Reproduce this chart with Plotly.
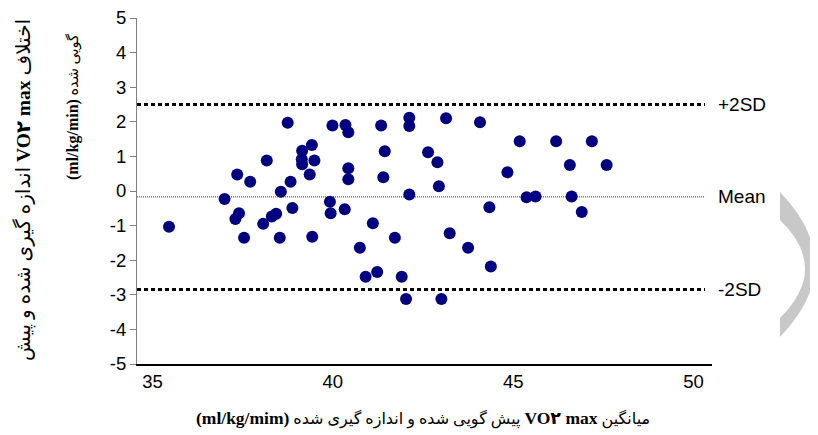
import plotly.graph_objects as go

# Bland-Altman data
mean_vals = [38.75, 39.99, 40.35, 40.43, 41.34, 42.12, 42.12, 39.42, 39.15, 41.44,
             38.17, 39.14, 39.49, 39.15, 37.35, 37.71, 38.83, 39.36, 40.43, 40.43,
             41.40, 38.56, 37.00, 42.12, 39.92, 38.88, 39.94, 40.33, 37.40, 37.30,
             38.43, 38.31, 35.46, 38.07, 41.11, 37.54, 38.53, 39.43, 41.72, 40.75,
             40.91, 41.23, 41.91, 42.03, 43.14, 44.08, 45.18, 46.19, 47.18, 42.64,
             42.90, 46.57, 47.59, 44.84, 42.94, 45.37, 45.62, 46.62, 44.34, 46.90,
             43.24, 43.75, 44.38, 43.01]
diff_vals = [1.97, 1.89, 1.91, 1.70, 1.89, 2.12, 1.88, 1.33, 1.16, 1.15,
             0.88, 0.92, 0.88, 0.77, 0.48, 0.27, 0.27, 0.48, 0.66, 0.34,
             0.40, -0.02, -0.23, -0.10, -0.31, -0.49, -0.64, -0.53, -0.64, -0.81,
             -0.66, -0.74, -1.03, -0.95, -0.93, -1.35, -1.35, -1.32, -1.35, -1.64,
             -2.48, -2.34, -2.48, -3.12, 2.10, 1.99, 1.44, 1.44, 1.44, 1.12,
             0.83, 0.75, 0.75, 0.54, 0.14, -0.18, -0.16, -0.16, -0.47, -0.61,
             -1.22, -1.64, -2.18, -3.12]

limit_names = ["+2SD", "Mean", "-2SD"]
limit_vals = [2.50, -0.17, -2.85]

x_ticks = [35, 40, 45, 50]
y_ticks = [5, 4, 3, 2, 1, 0, -1, -2, -3, -4, -5]

# page body has an 8px margin: figure is drawn from (8, 8) of the window
OFF = 8
W, H = 818 - OFF, 435 - OFF
ML, MT = 137 - OFF, 18 - OFF
MR = W - (712 - OFF)
MB = H - (364 - OFF)
PW, PH = W - ML - MR, H - MT - MB


def px(xw):
    """window pixel x -> paper"""
    return (xw - OFF - ML) / PW


def py(yw):
    """window pixel y -> paper"""
    return (H - MB - (yw - OFF)) / PH


fig = go.Figure()
fig.add_trace(go.Scatter(
    x=mean_vals, y=diff_vals, mode="markers",
    marker=dict(color="#000080", size=12, line=dict(width=0)),
    showlegend=False, cliponaxis=False,
))

line_styles = {
    "+2SD": dict(color="black", width=3, dash="4px,3px"),
    "Mean": dict(color="#333333", width=1, dash="1px,1px"),
    "-2SD": dict(color="black", width=3, dash="4px,3px"),
}
for name, v in zip(limit_names, limit_vals):
    fig.add_shape(type="line", xref="paper", yref="y", x0=0, x1=px(705), y0=v, y1=v,
                  line=line_styles[name], layer="below")
    fig.add_annotation(xref="paper", yref="y", x=px(716), y=v, text=name,
                       showarrow=False, xanchor="left", yanchor="middle",
                       font=dict(family="Liberation Sans, Arial", size=19, color="black"))

# decorative grey crescent at right edge
path = (f"M {px(780)},{py(192)} Q {px(850)},{py(265)} {px(780)},{py(337)} "
        f"L {px(780)},{py(318)} Q {px(830)},{py(268)} {px(780)},{py(220)} Z")
fig.add_shape(type="path", xref="paper", yref="paper", path=path,
              fillcolor="#c8c8c8", line=dict(width=0), layer="below")

RLE, PDF = "\u202b", "\u202c"


def latin(s, size):
    return f"<span style='font-size:{size}px'><b>{s}</b></span>"


fam = "Liberation Serif, DejaVu Sans"
fig.add_annotation(xref="paper", yref="paper", x=px(24), y=py(190),
                   text=RLE + "اختلاف " + latin("VO۲ max", 19.5) + " اندازه گیری شده و پیش" + PDF,
                   textangle=-90, showarrow=False, xanchor="center", yanchor="middle",
                   font=dict(family=fam, size=20, color="black"))
fig.add_annotation(xref="paper", yref="paper", x=px(73), y=py(107),
                   text=RLE + "گویی شده " + latin("(ml/kg/min)", 16) + PDF,
                   textangle=-90, showarrow=False, xanchor="center", yanchor="middle",
                   font=dict(family=fam, size=14.5, color="black"))
fig.add_annotation(xref="paper", yref="paper", x=px(423), y=py(418),
                   text=RLE + "میانگین " + latin("VO۲ max", 17.5)
                   + " پیش گویی شده و اندازه گیری شده " + latin("(ml/kg/mim)", 17.5) + PDF,
                   showarrow=False, xanchor="center", yanchor="middle",
                   font=dict(family=fam, size=16, color="black"))

tickfont = dict(family="Liberation Sans, Arial", size=18.5, color="black")
fig.update_layout(
    width=W, height=H,
    margin=dict(l=ML, r=MR, t=MT, b=MB, pad=0, autoexpand=False),
    paper_bgcolor="white", plot_bgcolor="white",
    xaxis=dict(range=[34.573, 50.51], tickvals=x_ticks, ticktext=[str(t) for t in x_ticks],
               showgrid=False, zeroline=False, showline=True, linecolor="black",
               linewidth=2, ticks="", tickfont=tickfont, fixedrange=True,
               ticklabeloverflow="allow", automargin=False),
    yaxis=dict(range=[-5, 5], tickvals=y_ticks, ticktext=[str(t) for t in y_ticks],
               showgrid=False, zeroline=False, showline=True, linecolor="#808080",
               linewidth=1, ticks="outside", ticklen=6, tickcolor="#808080",
               tickfont=tickfont, fixedrange=True, ticklabeloverflow="allow",
               automargin=False),
)

fig.write_html("out.html")
